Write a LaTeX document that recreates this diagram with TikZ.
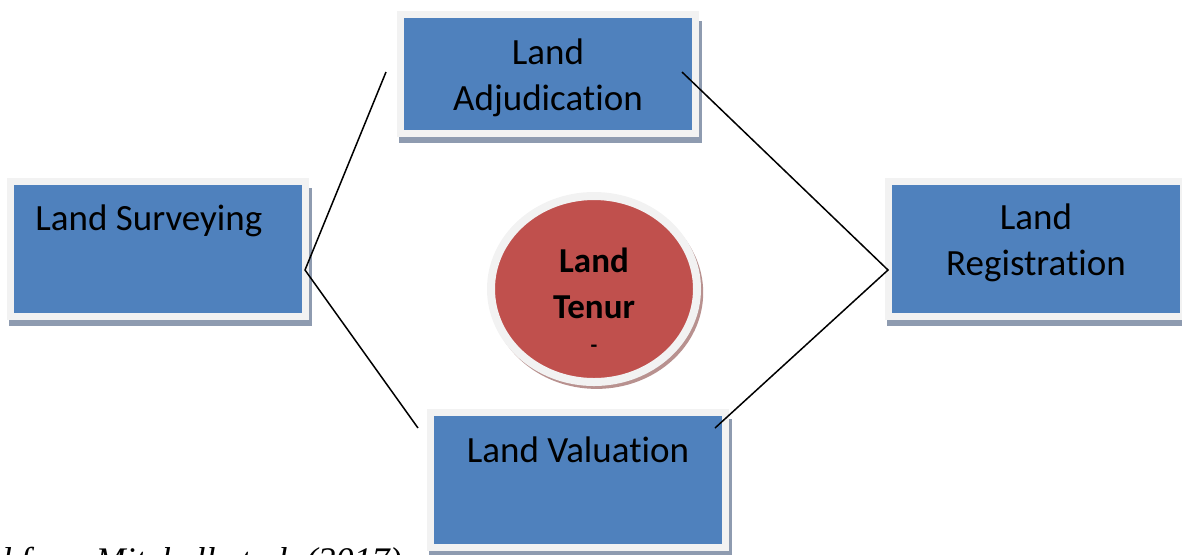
\documentclass[tikz,border=0pt]{standalone}
\usepackage{fontspec}
\setmainfont{Carlito}[Ligatures=NoCommon]
\newfontfamily\srcfont{Liberation Serif}
\usetikzlibrary{shapes.geometric,shadows}
\definecolor{boxblue}{HTML}{4F81BD}
\definecolor{framegray}{HTML}{F2F2F2}
\definecolor{boxshadow}{HTML}{8E9BB0}
\definecolor{tenurred}{HTML}{C0504D}
\definecolor{tenurshadow}{HTML}{B8918F}
\begin{document}
\begin{tikzpicture}[x=0.5pt,y=-0.5pt,
    landbox/.style={rectangle,fill=boxblue,draw=framegray,line width=3.5pt,
      minimum width=147.5pt,minimum height=67.5pt,inner sep=0pt,
      drop shadow={shadow xshift=1.25pt,shadow yshift=-3.9pt,shadow scale=1.027,
        fill=boxshadow,opacity=1}},
    boxtext/.style={anchor=base,align=center,inner sep=0pt,
      font=\fontsize{18.5}{23}\selectfont},
    link/.style={line width=0.75pt}]
  \useasboundingbox (0,0) rectangle (1182,554);
  \clip (0,0) rectangle (1182,554);
  \node[landbox,minimum height=59.5pt] (adj) at (547.5,74) {};
  \node[landbox] (surv) at (158,249) {};
  \node[landbox] (reg) at (1036,249) {};
  \node[landbox] (val) at (578,480) {};
  \node[ellipse,fill=tenurred,draw=framegray,line width=4pt,inner sep=0pt,
    minimum width=103pt,minimum height=93pt,
    drop shadow={shadow xshift=1.25pt,shadow yshift=-1.75pt,shadow scale=1.035,
      fill=tenurshadow,opacity=1}] (tenure) at (594,289) {};
  \node[boxtext] (adjtxt) at (548,110) {Land\\Adjudication};
  \node[boxtext,anchor=base west] (survtxt) at (35,230) {Land Surveying};
  \node[boxtext] (regtxt) at (1036,275) {Land\\Registration};
  \node[boxtext] (valtxt) at (578,462) {Land Valuation};
  \node[boxtext,font=\fontsize{17.5}{23}\selectfont\bfseries] (tenurtxt) at (594,318) {Land\\Tenur};
  \node[boxtext,font=\fontsize{11}{12}\selectfont\bfseries] (tenurdash) at (594,352) {-};
  \node[anchor=base east,inner sep=0pt,font=\srcfont\itshape\fontsize{18}{20}\selectfont]
    (src) at (402,572) {Adapted from Mitchell et al.\ (2017)};
  \coordinate (survtip) at (305,270);
  \coordinate (regtip) at (888,270);
  \coordinate (adjl) at (386,72);
  \coordinate (adjr) at (682,72);
  \coordinate (vall) at (418,428);
  \coordinate (valr) at (715,428);
  \draw[link] (adjl) -- (survtip) -- (vall);
  \draw[link] (adjr) -- (regtip) -- (valr);
\end{tikzpicture}
\end{document}
